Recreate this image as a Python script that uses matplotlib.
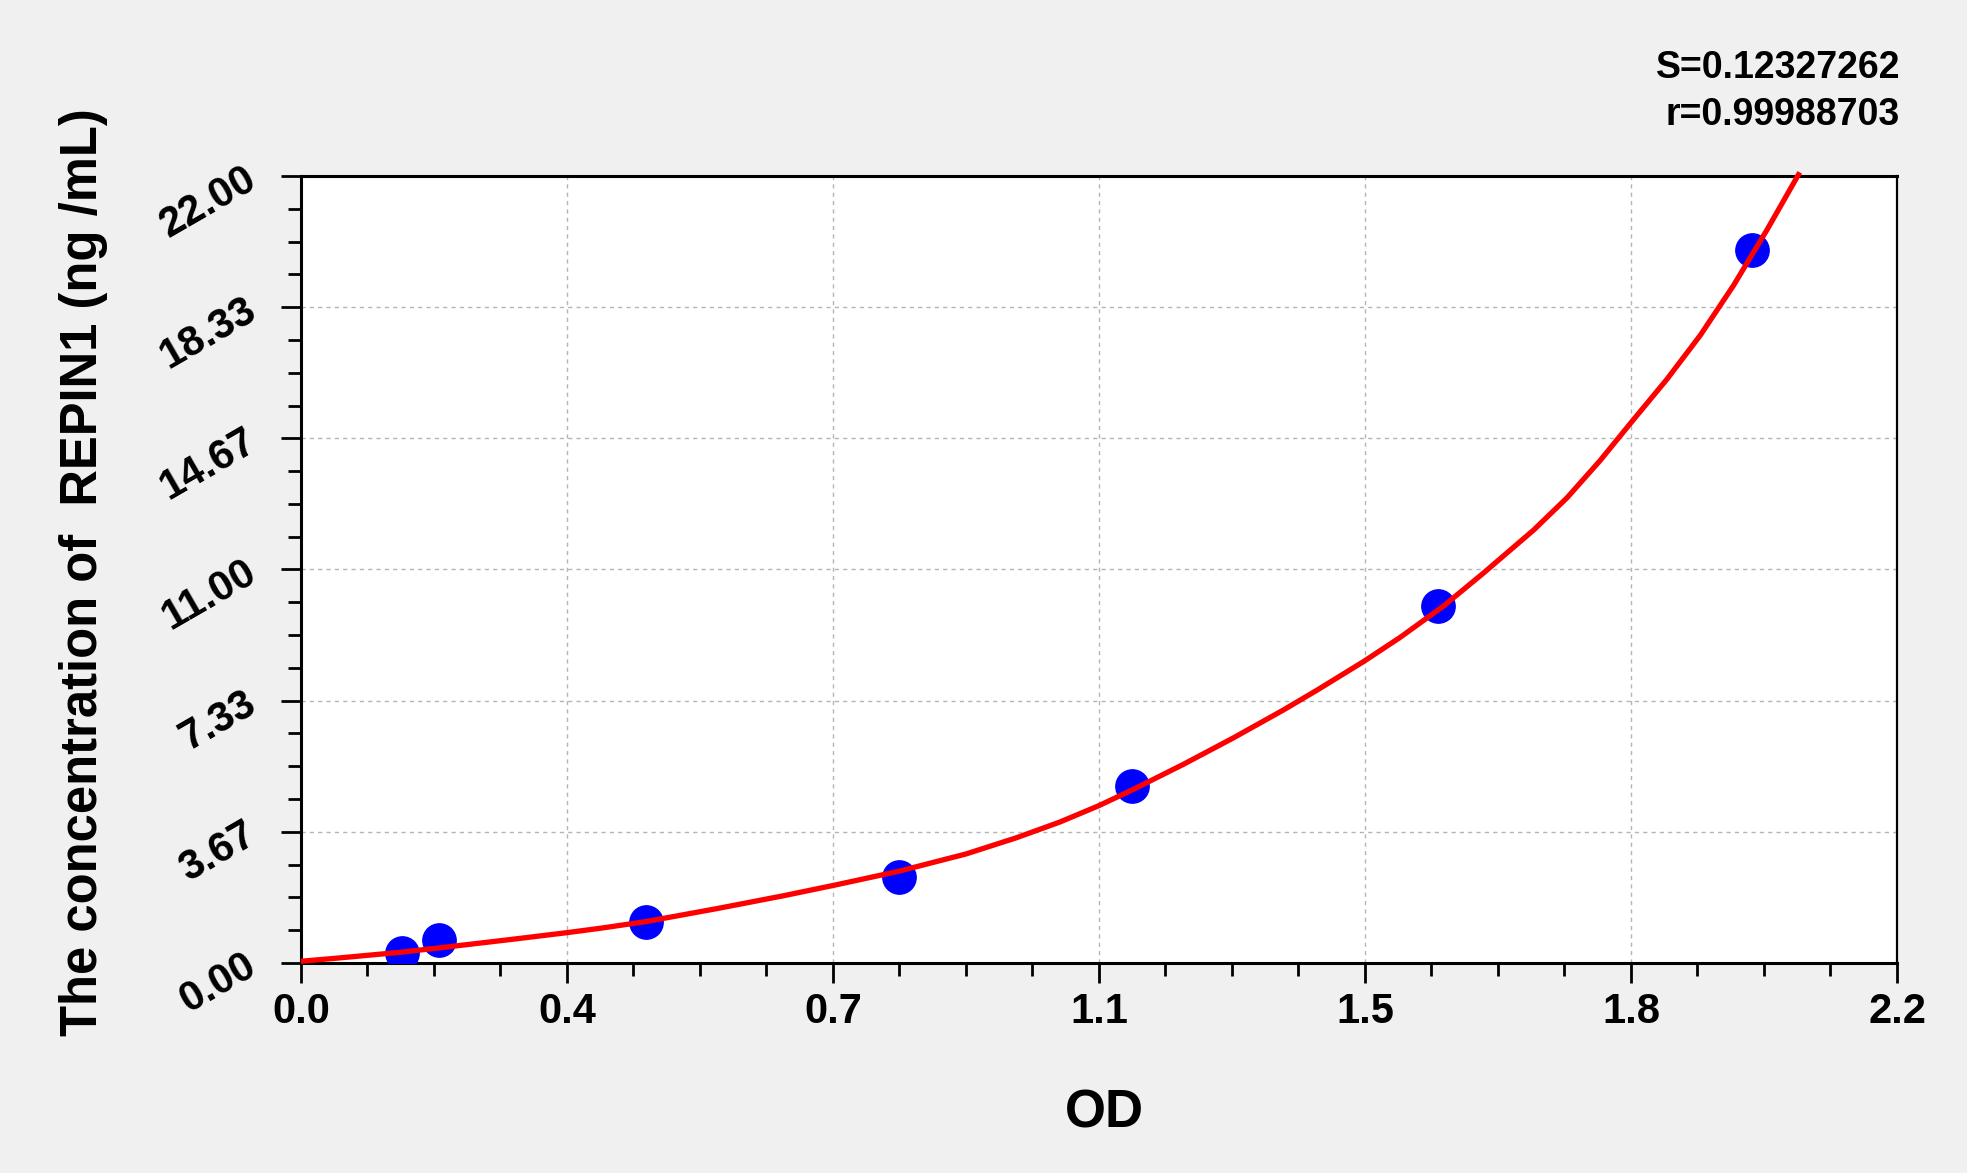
import numpy as np
import matplotlib.pyplot as plt
from matplotlib.ticker import FixedLocator, AutoMinorLocator

plt.rcParams['font.family'] = ['Liberation Sans', 'DejaVu Sans']
plt.rcParams['font.weight'] = 'bold'

# standards (OD, concentration)
od = [0.139, 0.190, 0.476, 0.824, 1.146, 1.567, 2.000]
conc = [0.27, 0.64, 1.16, 2.41, 4.94, 9.97, 19.92]

# fitted curve
curve_x = [0.0, 0.046, 0.137, 0.189, 0.290, 0.367, 0.412, 0.476, 0.573, 0.665,
           0.734, 0.823, 0.917, 0.986, 1.046, 1.100, 1.147, 1.216, 1.285, 1.354,
           1.400, 1.465, 1.515, 1.575, 1.630, 1.699, 1.745, 1.791, 1.834, 1.883,
           1.929, 1.975, 2.021, 2.066]
curve_y = [0.05, 0.13, 0.30, 0.42, 0.66, 0.85, 0.97, 1.16, 1.52, 1.88,
           2.17, 2.56, 3.05, 3.50, 3.94, 4.40, 4.85, 5.55, 6.29, 7.07,
           7.62, 8.43, 9.10, 9.98, 10.90, 12.10, 13.00, 14.05, 15.12, 16.32,
           17.55, 18.95, 20.50, 22.10]

xticklabels = ['0.0', '0.4', '0.7', '1.1', '1.5', '1.8', '2.2']
yticklabels = ['0.00', '3.67', '7.33', '11.00', '14.67', '18.33', '22.00']
stats = ['S=0.12327262', 'r=0.99988703']

fig = plt.figure(figsize=(19.67, 11.73), dpi=100, facecolor='#f0f0f0')
ax = fig.add_axes([0.1530, 0.1790, 0.8114, 0.6710])
ax.set_facecolor('white')

ax.plot(od, conc, 'o', color='#0000ff', markersize=24, zorder=3)
ax.plot(curve_x, curve_y, color='#ff0000', lw=3.8, zorder=4, clip_on=False,
        solid_capstyle='butt', solid_joinstyle='round')

ax.set_xlim(0, 2.2)
ax.set_ylim(0, 22)
ax.xaxis.set_major_locator(FixedLocator(np.linspace(0, 2.2, 7)))
ax.yaxis.set_major_locator(FixedLocator(np.linspace(0, 22, 7)))
ax.xaxis.set_minor_locator(AutoMinorLocator(4))
ax.yaxis.set_minor_locator(AutoMinorLocator(4))
ax.set_xticklabels(xticklabels, fontsize=30, fontweight='bold')
ax.set_yticklabels(yticklabels, fontsize=30, fontweight='bold',
                   rotation=30, ha='right', va='center', rotation_mode='anchor')

ax.tick_params(which='major', direction='out', length=14.5, width=2, pad=6)
ax.tick_params(axis='y', which='major', pad=20)
ax.tick_params(which='minor', direction='out', length=9.5, width=2)
ax.tick_params(top=False, right=False, which='both')

for side in ['left', 'bottom', 'top']:
    ax.spines[side].set_linewidth(2.2)
ax.spines['right'].set_linewidth(1.6)

ax.grid(True, which='major', color='#b4b4b4', linestyle=(0, (3, 3)), lw=1.0)
ax.set_axisbelow(True)

fig.text(0.0427, 0.5124, 'The concentration of  REPIN1 (ng /mL)', rotation=90,
         ha='center', va='center', fontsize=36.5, fontweight='bold')
fig.text(0.5613, 0.0503, 'OD', ha='center', va='center', fontsize=38,
         fontweight='bold')
fig.text(0.9660, 0.9335, stats[0], ha='right', va='baseline', fontsize=27,
         fontweight='bold')
fig.text(0.9660, 0.8934, stats[1], ha='right', va='baseline', fontsize=27,
         fontweight='bold')

fig.savefig('out.png', dpi=100, facecolor=fig.get_facecolor())
